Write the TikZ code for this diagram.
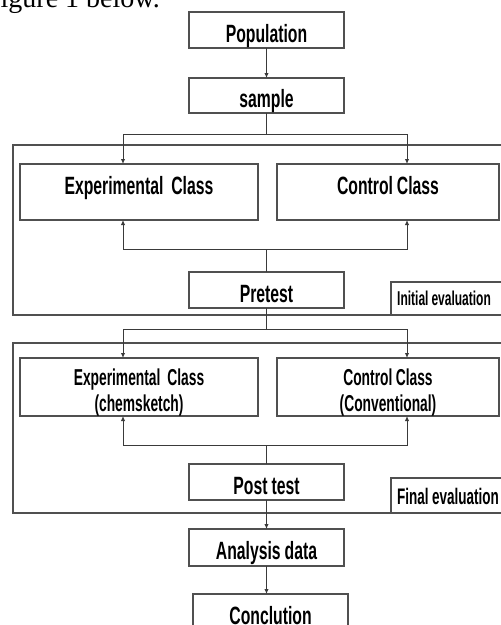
\documentclass[tikz,border=0pt]{standalone}
\usepackage{fontspec}
\setmainfont{Liberation Serif}
\newfontfamily\narrowsans[FakeStretch=0.63, WordSpace=0.9]{Liberation Sans}
\newfontfamily\tallsans[FakeStretch=0.6, WordSpace=0.9]{Liberation Sans}
\usetikzlibrary{positioning,arrows.meta}
\definecolor{lineink}{HTML}{3A3A3A}
\definecolor{boxink}{HTML}{505050}

\begin{document}
\begin{tikzpicture}[x=1pt, y=1pt,
  flowbox/.style={draw=boxink, line width=1.1pt, inner sep=0pt, outer sep=0pt, text=black,
    font=\narrowsans\bfseries\fontsize{25}{28}\selectfont},
  stepbox/.style={flowbox, minimum width=155pt, minimum height=36pt, text height=24pt, text depth=0pt},
  classbox/.style={flowbox, minimum height=56pt, text height=17pt, text depth=12pt},
  twoline/.style={align=center, yshift=-6pt, inner sep=0pt, text=black,
    font=\tallsans\bfseries\fontsize{23}{26}\selectfont},
  evalbox/.style={flowbox, anchor=north west, minimum width=130pt},
  evaltext/.style={anchor=west, xshift=6pt, inner sep=0pt, text depth=0pt, text=black},
  arr/.style={draw=lineink, line width=1pt, -{Latex[length=5pt,width=4.5pt]}},
  link/.style={draw=lineink, line width=1pt},
  frame/.style={draw=boxink, line width=1.1pt}]

\useasboundingbox (0,0) rectangle (501,-625);
\clip (0,0) rectangle (501,-625);

% line of the page above the figure
\node[anchor=base east, inner sep=0pt, font=\fontsize{28}{32}\selectfont] (caption) at (160,-7) {Figure 1 below.};

% evaluation frames
\draw[frame] (13,-145) rectangle (530,-315);
\draw[frame] (13,-343) rectangle (530,-513);

\node[stepbox] (pop) at (266.5,-30) {Population};
\node[stepbox, minimum height=35pt, below=30pt of pop] (samp) {sample};
\node[classbox, minimum width=238pt] (expA) at (139,-192) {Experimental~~Class};
\node[classbox, minimum width=222pt, right=19pt of expA] (ctlA) {Control Class};
\node[stepbox] (pre) at (266.5,-290) {Pretest};
\node[evalbox, minimum height=33pt,
  label={[evaltext, name=initAtext, text height=13pt, font=\tallsans\bfseries\fontsize{20}{22}\selectfont]west:Initial evaluation}] (initA) at (391,-282) {};

\node[classbox, minimum width=238pt, minimum height=58pt,
  label={[twoline, name=expBtext]center:{Experimental~~Class\\(chemsketch)}}] (expB) at (139,-387) {};
\node[classbox, minimum width=222pt, minimum height=58pt, right=19pt of expB,
  label={[twoline, name=ctlBtext]center:{Control Class\\(Conventional)}}] (ctlB) {};
\node[stepbox] (post) at (266.5,-482) {Post test};
\node[evalbox, minimum height=35pt,
  label={[evaltext, name=finBtext, text height=17pt, font=\tallsans\bfseries\fontsize{22.5}{25}\selectfont]west:Final evaluation}] (finB) at (391,-478) {};

\node[stepbox, minimum height=37pt, below=29pt of post] (ana) {Analysis data};
\node[stepbox, below=28pt of ana, xshift=4pt] (conc) {Conclution};

% connectors
\coordinate (forkA) at (266.5,-134);
\coordinate (joinA) at (266.5,-249);
\coordinate (forkB) at (266.5,-329);
\coordinate (joinB) at (266.5,-445);
\draw[arr] (pop) -- (samp);
\draw[link] (samp) -- (forkA);
\draw[arr] (forkA) -| ([xshift=-16pt]expA.north);
\draw[arr] (forkA) -| ([xshift=19pt]ctlA.north);
\draw[link] (pre) -- (joinA);
\draw[arr] (joinA) -| ([xshift=-16pt]expA.south);
\draw[arr] (joinA) -| ([xshift=19pt]ctlA.south);
\draw[link] (pre) -- (forkB);
\draw[arr] (forkB) -| ([xshift=-16pt]expB.north);
\draw[arr] (forkB) -| ([xshift=19pt]ctlB.north);
\draw[link] (post) -- (joinB);
\draw[arr] (joinB) -| ([xshift=-16pt]expB.south);
\draw[arr] (joinB) -| ([xshift=19pt]ctlB.south);
\draw[arr] (post) -- (ana);
\draw[arr] (ana.south) -- (ana.south |- conc.north);
\end{tikzpicture}
\end{document}
